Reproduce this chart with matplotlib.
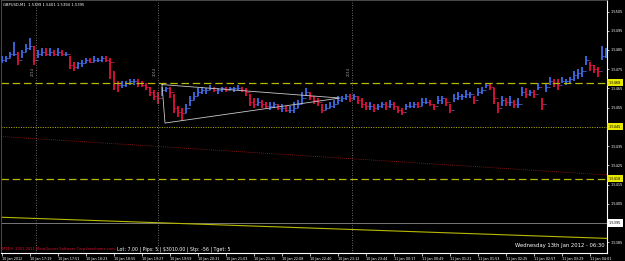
import matplotlib
matplotlib.use("Agg")
import matplotlib.pyplot as plt
import matplotlib.transforms as mtransforms
import numpy as np

# ---------------- data ----------------
closes = [1.5480, 1.5481, 1.5483, 1.5483, 1.5480, 1.5484, 1.5486, 1.5487, 1.5480, 1.5483,
          1.5484, 1.5483, 1.5484, 1.5483, 1.5484, 1.5483, 1.5483, 1.5477, 1.5476, 1.5478,
          1.5478, 1.5480, 1.5479, 1.5480, 1.5480, 1.5481, 1.5480, 1.5479, 1.5468, 1.5467,
          1.5467, 1.5468, 1.5469, 1.5469, 1.5468, 1.5467, 1.5466, 1.5463, 1.5461, 1.5460,
          1.5464, 1.5465, 1.5463, 1.5455, 1.5453, 1.5452, 1.5455, 1.5459, 1.5461, 1.5463,
          1.5464, 1.5464, 1.5465, 1.5464, 1.5464, 1.5465, 1.5464, 1.5465, 1.5465, 1.5465,
          1.5464, 1.5463, 1.5458, 1.5457, 1.5458, 1.5457, 1.5456, 1.5456, 1.5457, 1.5455,
          1.5455, 1.5454, 1.5454, 1.5455, 1.5457, 1.5460, 1.5463, 1.5461, 1.5459, 1.5458,
          1.5454, 1.5455, 1.5456, 1.5457, 1.5459, 1.5460, 1.5461, 1.5460, 1.5461, 1.5459,
          1.5457, 1.5456, 1.5456, 1.5455, 1.5456, 1.5457, 1.5456, 1.5457, 1.5456, 1.5454,
          1.5453, 1.5456, 1.5456, 1.5457, 1.5456, 1.5458, 1.5458, 1.5457, 1.5456, 1.5459,
          1.5460, 1.5458, 1.5454, 1.5460, 1.5461, 1.5461, 1.5462, 1.5462, 1.5459, 1.5463,
          1.5464, 1.5467, 1.5466, 1.5460, 1.5455, 1.5459, 1.5458, 1.5458, 1.5457, 1.5457,
          1.5463, 1.5462, 1.5463, 1.5462, 1.5466, 1.5457, 1.5466, 1.5469, 1.5468, 1.5467,
          1.5469, 1.5469, 1.5470, 1.5472, 1.5473, 1.5474, 1.5480, 1.5477, 1.5475, 1.5474,
          1.5482, 1.5483]
highs = [1.5482, 1.5482, 1.5484, 1.5489, 1.5484, 1.5485, 1.5488, 1.5491, 1.5487, 1.5485,
         1.5486, 1.5486, 1.5486, 1.5485, 1.5486, 1.5485, 1.5484, 1.5482, 1.5479, 1.5479,
         1.5480, 1.5481, 1.5481, 1.5482, 1.5481, 1.5482, 1.5482, 1.5481, 1.5474, 1.5469,
         1.5469, 1.5469, 1.5470, 1.5470, 1.5470, 1.5469, 1.5468, 1.5466, 1.5464, 1.5463,
         1.5466, 1.5466, 1.5466, 1.5462, 1.5456, 1.5455, 1.5457, 1.5461, 1.5463, 1.5465,
         1.5466, 1.5465, 1.5467, 1.5466, 1.5465, 1.5466, 1.5466, 1.5466, 1.5466, 1.5467,
         1.5466, 1.5465, 1.5462, 1.5460, 1.5460, 1.5459, 1.5458, 1.5458, 1.5458, 1.5457,
         1.5457, 1.5456, 1.5456, 1.5458, 1.5459, 1.5463, 1.5465, 1.5463, 1.5461, 1.5460,
         1.5457, 1.5457, 1.5458, 1.5459, 1.5461, 1.5461, 1.5462, 1.5462, 1.5462, 1.5461,
         1.5460, 1.5458, 1.5458, 1.5457, 1.5457, 1.5458, 1.5458, 1.5459, 1.5458, 1.5456,
         1.5455, 1.5457, 1.5458, 1.5458, 1.5458, 1.5460, 1.5460, 1.5459, 1.5457, 1.5461,
         1.5461, 1.5460, 1.5457, 1.5462, 1.5463, 1.5462, 1.5464, 1.5463, 1.5461, 1.5465,
         1.5466, 1.5468, 1.5468, 1.5465, 1.5458, 1.5461, 1.5460, 1.5461, 1.5459, 1.5460,
         1.5466, 1.5465, 1.5464, 1.5464, 1.5468, 1.5460, 1.5468, 1.5471, 1.5470, 1.5470,
         1.5471, 1.5470, 1.5471, 1.5474, 1.5475, 1.5476, 1.5482, 1.5479, 1.5477, 1.5476,
         1.5487, 1.5486]
lows = [1.5478, 1.5479, 1.5481, 1.5482, 1.5477, 1.5481, 1.5484, 1.5485, 1.5477, 1.5481,
        1.5482, 1.5482, 1.5482, 1.5482, 1.5482, 1.5482, 1.5482, 1.5475, 1.5474, 1.5475,
        1.5476, 1.5478, 1.5478, 1.5479, 1.5479, 1.5479, 1.5479, 1.5470, 1.5464, 1.5463,
        1.5465, 1.5466, 1.5467, 1.5467, 1.5466, 1.5466, 1.5464, 1.5461, 1.5459, 1.5457,
        1.5461, 1.5463, 1.5460, 1.5452, 1.5450, 1.5448, 1.5452, 1.5456, 1.5459, 1.5461,
        1.5462, 1.5462, 1.5464, 1.5463, 1.5462, 1.5463, 1.5463, 1.5464, 1.5463, 1.5464,
        1.5463, 1.5461, 1.5456, 1.5455, 1.5456, 1.5455, 1.5455, 1.5454, 1.5455, 1.5454,
        1.5453, 1.5453, 1.5452, 1.5452, 1.5455, 1.5457, 1.5461, 1.5459, 1.5457, 1.5456,
        1.5452, 1.5454, 1.5455, 1.5455, 1.5457, 1.5458, 1.5459, 1.5458, 1.5459, 1.5457,
        1.5455, 1.5454, 1.5454, 1.5453, 1.5454, 1.5455, 1.5454, 1.5455, 1.5454, 1.5452,
        1.5451, 1.5454, 1.5455, 1.5455, 1.5455, 1.5456, 1.5457, 1.5456, 1.5454, 1.5457,
        1.5457, 1.5456, 1.5452, 1.5458, 1.5459, 1.5459, 1.5460, 1.5460, 1.5457, 1.5461,
        1.5462, 1.5465, 1.5464, 1.5457, 1.5452, 1.5456, 1.5456, 1.5456, 1.5455, 1.5455,
        1.5461, 1.5460, 1.5461, 1.5460, 1.5464, 1.5454, 1.5463, 1.5467, 1.5466, 1.5464,
        1.5468, 1.5467, 1.5468, 1.5469, 1.5470, 1.5471, 1.5477, 1.5474, 1.5473, 1.5471,
        1.5480, 1.5481]

time_labels = ["10 Jan 2012", "10 Jan 17:19", "10 Jan 17:51", "10 Jan 18:23", "10 Jan 18:55",
               "10 Jan 19:27", "10 Jan 19:59", "10 Jan 20:31", "10 Jan 21:03", "10 Jan 21:35",
               "10 Jan 22:08", "10 Jan 22:40", "10 Jan 23:12", "10 Jan 23:44", "11 Jan 00:17",
               "11 Jan 00:49", "11 Jan 01:21", "11 Jan 01:53", "11 Jan 02:25", "11 Jan 02:57",
               "11 Jan 03:29", "11 Jan 04:01"]
bars_per_label = 7

price_ticks = [1.5505, 1.5495, 1.5485, 1.5475, 1.5465, 1.5455, 1.5435,
               1.5425, 1.5415, 1.5405, 1.5385]

level_dash_upper = 1.5468
level_dot_upper = 1.5445
level_dash_lower = 1.5418
level_gray = 1.5395
red_trend_x = [-0.25, 151.25]
red_trend_y = [1.5440, 1.5420]
yellow_trend_x = [-0.25, 151.25]
yellow_trend_y = [1.5398, 1.5387]

tri_x = [40.0, 40.75, 84.5, 40.0]
tri_y = [1.5467, 1.5447, 1.5460, 1.5467]

vlines_x = [8.5, 39.0, 87.5]
vline_text = "2014"

header = "GBPUSD,M1  1.5399 1.5401 1.5394 1.5395"
footer_red = "MT4i® 2001-2011 MetaQuotes Software Corp.forexhome.com"
footer_white = "Lot: 7.00 | Pips: 5 | $3010.00 | Stp: -56 | Tget: 5"
footer_date = "Wednesday 13th Jan 2012 - 06:30"

# ---------------- figure ----------------
W, H = 625, 261
fig = plt.figure(figsize=(W / 100, H / 100), dpi=100, facecolor="black")
ax = fig.add_axes([1 / W, 8 / H, 606 / W, 253 / H], facecolor="black")

n = len(closes)
xs = np.arange(n)
opens = [closes[0]] + closes[:-1]
up_c = "#3f6bea"
dn_c = "#e0123e"
cols = [up_c if c >= o else dn_c for o, c in zip(opens, closes)]
ax.vlines(xs, lows, highs, colors=cols, linewidth=1.3)
ax.hlines(opens, xs - 0.4, xs, colors=cols, linewidth=0.6)
ax.hlines(closes, xs, xs + 0.4, colors=cols, linewidth=0.6)

ax.set_xlim(-0.25, 151.25)
ax.set_ylim(1.53794, 1.5511)

yel = "#b8b800"
ax.axhline(level_dash_upper, color=yel, lw=0.9, ls=(0, (6, 3)))
ax.axhline(level_dot_upper, color=yel, lw=0.7, ls=(0, (1, 1.5)))
ax.axhline(level_dash_lower, color=yel, lw=0.9, ls=(0, (6, 3)))
ax.axhline(level_gray, color="#8a8a8a", lw=0.6)
ax.plot(red_trend_x, red_trend_y, color="#a01818", lw=0.6, ls=(0, (1, 1.5)))
ax.plot(yellow_trend_x, yellow_trend_y, color=yel, lw=0.8)
ax.plot(tri_x, tri_y, color="#c8c8c8", lw=0.6)

for vx in vlines_x:
    ax.axvline(vx, color="#8a8a8a", lw=0.6, ls=(0, (1, 2)))
    ax.text(vx - 0.8, 1.5474, vline_text, rotation=90, color="#9a9a9a",
            fontsize=2.6, ha="center", va="center")

# axes styling
for s in ["top", "left"]:
    ax.spines[s].set_color("#555555")
    ax.spines[s].set_linewidth(0.6)
for s in ["right", "bottom"]:
    ax.spines[s].set_color("white")
    ax.spines[s].set_linewidth(0.8)

ax.set_xticks([k * bars_per_label for k in range(len(time_labels))])
ax.set_xticklabels(time_labels)
for lab in ax.get_xticklabels():
    lab.set_ha("left")
ax.tick_params(axis="x", colors="white", labelsize=2.4, length=2, width=0.5, pad=0.8)

ax.yaxis.tick_right()
ax.set_yticks(price_ticks)
ax.set_yticklabels([f"{p:.4f}" for p in price_ticks])
ax.tick_params(axis="y", colors="white", labelsize=2.5, length=1.5, width=0.5, pad=1.2)

# highlighted price labels
trans = mtransforms.blended_transform_factory(ax.transAxes, ax.transData)
for lvl, fc in [(level_dash_upper, "#e8e800"), (level_dot_upper, "#e8e800"),
                (level_dash_lower, "#e8e800"), (level_gray, "white")]:
    ax.text(1.003, lvl, f"{lvl:.4f}", transform=trans, fontsize=2.5, color="black",
            ha="left", va="center", clip_on=False,
            bbox=dict(boxstyle="square,pad=0.45", fc=fc, ec="none"))

fig.text(3 / W, 1 - 4.5 / H, header, color="white", fontsize=2.7, ha="left", va="center")
fig.text(2 / W, 1 - 249 / H, footer_red, color="#e01030", fontsize=2.6, ha="left", va="center")
fig.text(117 / W, 1 - 249 / H, footer_white, color="white", fontsize=3.4, ha="left", va="center")
fig.text(605 / W, 1 - 246 / H, footer_date, color="white", fontsize=3.8, ha="right", va="center")

fig.savefig("out.png", dpi=100, facecolor="black")
